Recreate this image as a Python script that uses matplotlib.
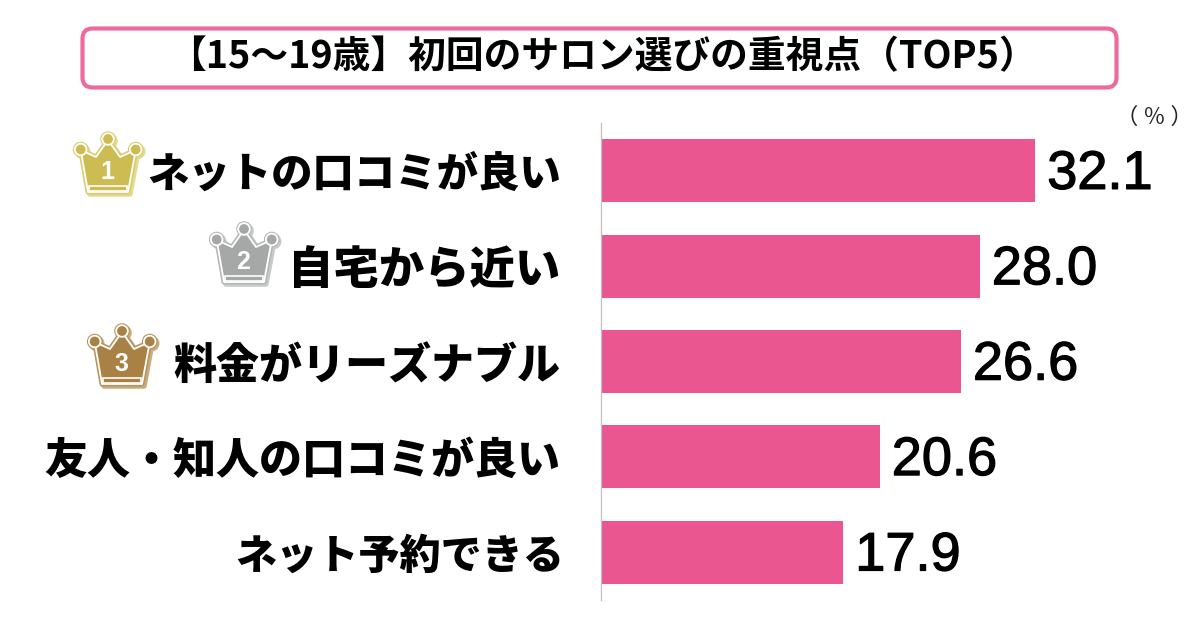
import numpy as np
import matplotlib
matplotlib.use('Agg')
import matplotlib.pyplot as plt
import matplotlib.patheffects as pe
from matplotlib.patches import FancyBboxPatch, Polygon, Circle, Rectangle
from matplotlib.transforms import ScaledTranslation

categories = ['ネットの口コミが良い', '自宅から近い', '料金がリーズナブル', '友人・知人の口コミが良い', 'ネット予約できる']
values = [32.1, 28.0, 26.6, 20.6, 17.9]
title = '【15～19歳】初回のサロン選びの重視点（TOP5）'
unit = '（ ％ ）'
ranks = ['1', '2', '3']

W, H = 1200, 630
JP = ['Noto Sans CJK JP', 'DejaVu Sans']
PINK = '#EA568F'
label_sizes = [29.8, 32.7, 31.0, 31.0, 29.6]
plt.rcParams['font.family'] = JP

fig = plt.figure(figsize=(12, 6.3), dpi=100, facecolor='white')

ax = fig.add_axes([601 / W, 1 - 600 / H, 599 / W, 477 / H])
ax.barh(np.arange(len(values)), values, height=0.66, color=PINK)
ax.set_xlim(0, 599 / 13.52)
ax.set_ylim(len(values) - 0.5, -0.5)
for s in ('top', 'right', 'bottom'):
    ax.spines[s].set_visible(False)
ax.spines['left'].set_color('#BFBFBF')
ax.spines['left'].set_linewidth(0.9)
ax.set_xticks([])
ax.set_yticks(np.arange(len(values)))
ax.set_yticklabels(categories, fontweight='black', color='black')
ax.tick_params(axis='y', length=0, pad=29)
for lab, size in zip(ax.get_yticklabels(), label_sizes):
    lab.set_fontsize(size)
last = ax.get_yticklabels()[-1]
last.set_transform(last.get_transform() + ScaledTranslation(3.5 / 100, 0, fig.dpi_scale_trans))
for i, v in enumerate(values):
    ax.annotate(f'{v:.1f}', (v, i), xytext=(8.8, -3), textcoords='offset points',
                va='center', ha='left', fontsize=39,
                family=['Liberation Sans', 'DejaVu Sans'], color='black',
                path_effects=[pe.withStroke(linewidth=0.9, foreground='black')])

ov = fig.add_axes([0, 0, 1, 1], facecolor='none')
ov.set_xlim(0, W)
ov.set_ylim(H, 0)
ov.axis('off')

ov.add_patch(FancyBboxPatch((92, 38), 1015, 40, boxstyle='round,pad=9.5,rounding_size=10',
                            fc='white', ec='#EE6A9E', lw=3))
ov.text(602, 57, title, ha='center', va='center', fontsize=27.2, fontweight='bold', color='black')
ov.text(1154, 117, unit, ha='center', va='center', fontsize=16, color='#222222')


def crown(cx, by, fill, edge, shadow, label):
    body = [(-20, 0), (-27.3, -42), (-12, -35), (0, -52), (12, -35), (27.7, -42), (20, 0)]
    balls = [(-27.3, -42.5), (0, -53), (27.7, -42.5)]
    pts = [(cx + x, by + y) for x, y in body]
    sh = [(x + 2, y + 2) for x, y in pts]
    ov.add_patch(Polygon(sh, closed=True, fc=shadow, ec=shadow, lw=4, joinstyle='round'))
    for x, y in balls:
        ov.add_patch(Circle((cx + x + 2, by + y + 2), 7.8, fc=shadow, ec='none'))
    ov.add_patch(Polygon(pts, closed=True, fc=edge, ec=edge, lw=3.6, joinstyle='round'))
    for x, y in balls:
        ov.add_patch(Circle((cx + x, by + y), 7.8, fc=edge, ec='none'))
    ov.add_patch(Polygon(pts, closed=True, fc=fill, ec='white', lw=1.3, joinstyle='round'))
    for x, y in balls:
        ov.add_patch(Circle((cx + x, by + y), 5.8, fc=fill, ec='white', lw=1.3))
    ov.add_patch(Rectangle((cx - 19, by - 6), 38, 5, fc=fill, ec='white', lw=1.2))
    ov.text(cx - 1, by - 20, label, ha='center', va='center', fontsize=18,
            fontweight='bold', color='white', family=['Liberation Sans', 'DejaVu Sans'])


crown(108, 192, '#CCBC52', '#D8CB6C', '#E3DB92', ranks[0])
crown(244, 282, '#A6A8A7', '#B5B7B6', '#C8C9C9', ranks[1])
crown(122, 384, '#A98144', '#B9935A', '#C9AC7E', ranks[2])

fig.savefig('out.png', dpi=100, facecolor='white')
